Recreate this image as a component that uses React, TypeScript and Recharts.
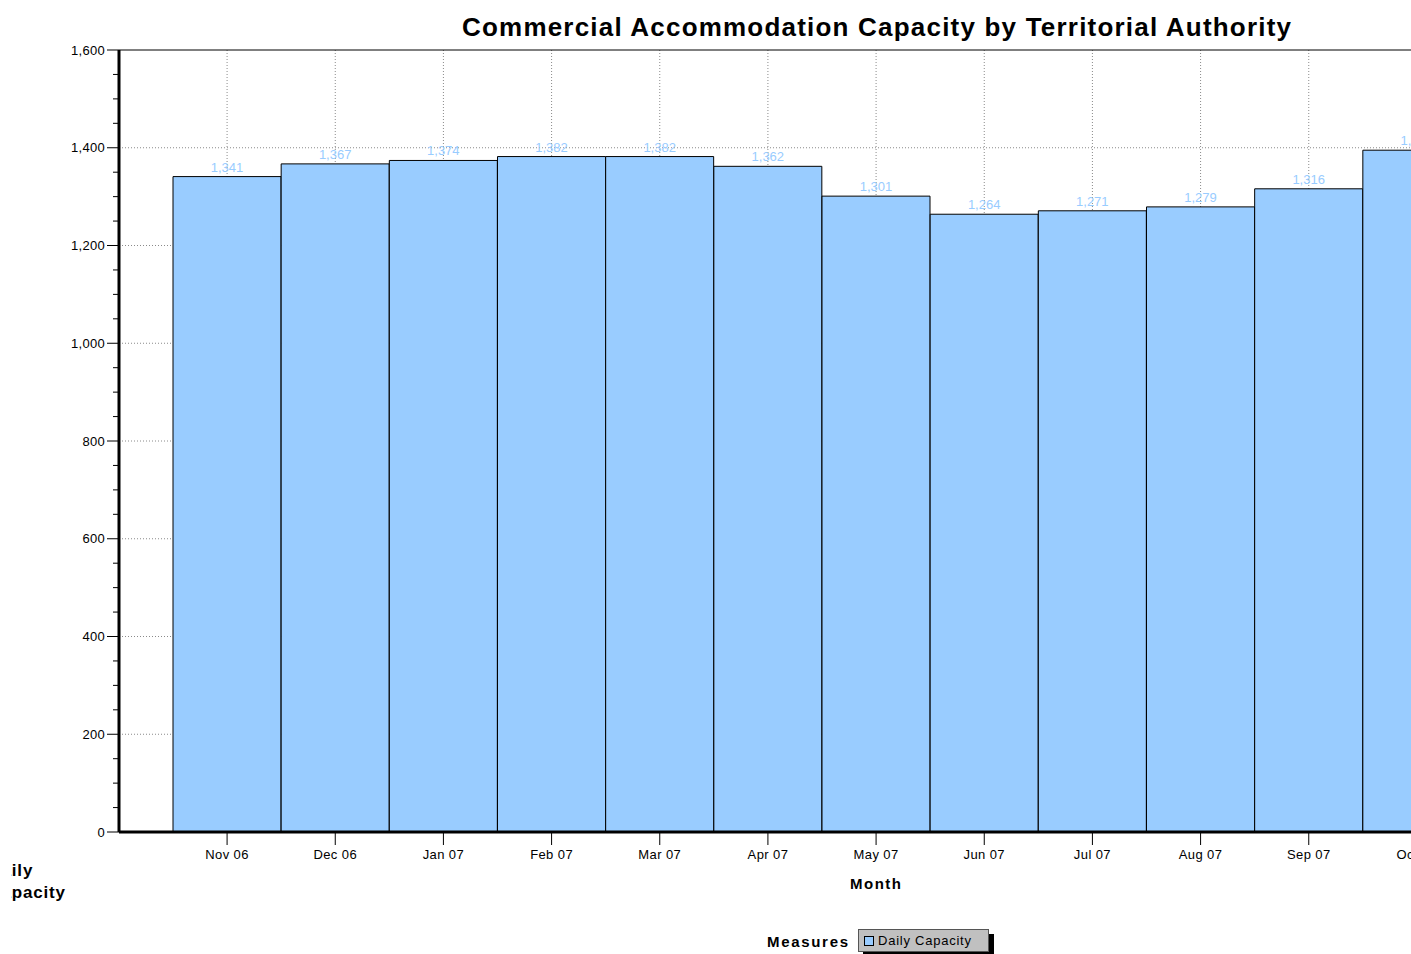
import React from 'react';
import { BarChart, Bar, XAxis, YAxis, CartesianGrid, LabelList, ReferenceLine } from 'recharts';

const months = ['Nov 06', 'Dec 06', 'Jan 07', 'Feb 07', 'Mar 07', 'Apr 07', 'May 07', 'Jun 07', 'Jul 07', 'Aug 07', 'Sep 07', 'Oct 07'];
const dailyCapacity = [1341, 1367, 1374, 1382, 1382, 1362, 1301, 1264, 1271, 1279, 1316, 1395];
const yTicksAll = [0, 50, 100, 150, 200, 250, 300, 350, 400, 450, 500, 550, 600, 650, 700, 750, 800, 850, 900, 950, 1000, 1050, 1100, 1150, 1200, 1250, 1300, 1350, 1400, 1450, 1500, 1550, 1600];
const yMajorTicks = [0, 200, 400, 600, 800, 1000, 1200, 1400, 1600];
const gridValues = [200, 400, 600, 800, 1000, 1200, 1400];

const data = months.map((m, i) => ({ month: m, value: dailyCapacity[i] }));

const FONT = '"Liberation Sans", Arial, Helvetica, sans-serif';
const fmt = (v: number) => v.toLocaleString('en-US');

const YTick = (props: any) => {
  const { x, y, payload } = props;
  const v = payload.value;
  const major = yMajorTicks.includes(v);
  return (
    <g>
      <line x1={x - (major ? 12 : 6)} x2={x} y1={y} y2={y} stroke="#000" strokeWidth={1} />
      {major && (
        <text x={x - 14} y={y} dy="0.35em" textAnchor="end" fontSize={13} letterSpacing={0.3} fill="#000" fontFamily={FONT}>
          {fmt(v)}
        </text>
      )}
    </g>
  );
};

const XTick = (props: any) => {
  const { x, y, payload } = props;
  return (
    <text x={x} y={y} dy="0.85em" textAnchor="middle" fontSize={13} letterSpacing={0.4} fill="#000" fontFamily={FONT}>
      {payload.value}
    </text>
  );
};

export default function App() {
  return (
    <div style={{ position: 'absolute', left: 0, top: 0, width: 1411, height: 954, overflow: 'hidden', background: '#fff' }}>
      <BarChart
        width={1530}
        height={954}
        data={data}
        margin={{ top: 50, right: 5, bottom: 82, left: 0 }}
        barCategoryGap={0}
        barGap={0}
      >
        <CartesianGrid
          stroke="#8a8a8a"
          strokeDasharray="1 2"
          horizontalValues={gridValues}
          vertical={true}
          horizontal={true}
        />
        <XAxis
          dataKey="month"
          interval={0}
          padding={{ left: 54, right: 54 }}
          height={40}
          tickSize={13}
          tickMargin={3}
          tickLine={{ stroke: '#000' }}
          axisLine={{ stroke: '#000', strokeWidth: 3 }}
          tick={<XTick />}
        />
        <YAxis
          type="number"
          domain={[0, 1600]}
          ticks={yTicksAll}
          interval={0}
          width={119}
          tickSize={0}
          tickMargin={0}
          tickLine={false}
          axisLine={{ stroke: '#000', strokeWidth: 3 }}
          tick={<YTick />}
        />
        <ReferenceLine y={1600} stroke="#000" strokeWidth={1} />
        <Bar dataKey="value" fill="#99CCFF" stroke="#000" strokeWidth={1} isAnimationActive={false}>
          <LabelList
            dataKey="value"
            position="top"
            offset={5}
            formatter={(v: any) => fmt(Number(v))}
            fill="#99CCFF"
            fontSize={13}
            fontFamily={FONT}
          />
        </Bar>
      </BarChart>
      <svg width={1411} height={954} style={{ position: 'absolute', left: 0, top: 0, pointerEvents: 'none' }}>
        <defs>
          <clipPath id="yTitleClip">
            <rect x={11} y={850} width={200} height={60} />
          </clipPath>
        </defs>
        <text x={462} y={36} fontSize={26} fontWeight="bold" fontFamily={FONT} fill="#000" textLength={829} lengthAdjust="spacing">
          Commercial Accommodation Capacity by Territorial Authority
        </text>
        <text x={850} y={889} fontSize={15} fontWeight="bold" fontFamily={FONT} fill="#000" textLength={51} lengthAdjust="spacing">
          Month
        </text>
        <g clipPath="url(#yTitleClip)">
          <text x={-11.5} y={876} fontSize={17} fontWeight="bold" fontFamily={FONT} fill="#000" letterSpacing={0.8}>
            Daily
          </text>
          <text x={-11.5} y={898} fontSize={17} fontWeight="bold" fontFamily={FONT} fill="#000" letterSpacing={0.8}>
            Capacity
          </text>
        </g>
        <text x={767} y={947} fontSize={15} fontWeight="bold" fontFamily={FONT} fill="#000" textLength={81} lengthAdjust="spacing">
          Measures
        </text>
        <rect x={863} y={934} width={131} height={20} fill="#000" />
        <rect x={858.5} y={929.5} width={130} height={22} fill="#c0c0c0" stroke="#555" strokeWidth={1} />
        <rect x={864.5} y={936.5} width={9} height={9} fill="#99CCFF" stroke="#000" strokeWidth={1} />
        <text x={878} y={945} fontSize={13} fontFamily={FONT} fill="#000" textLength={93} lengthAdjust="spacing">
          Daily Capacity
        </text>
      </svg>
    </div>
  );
}
